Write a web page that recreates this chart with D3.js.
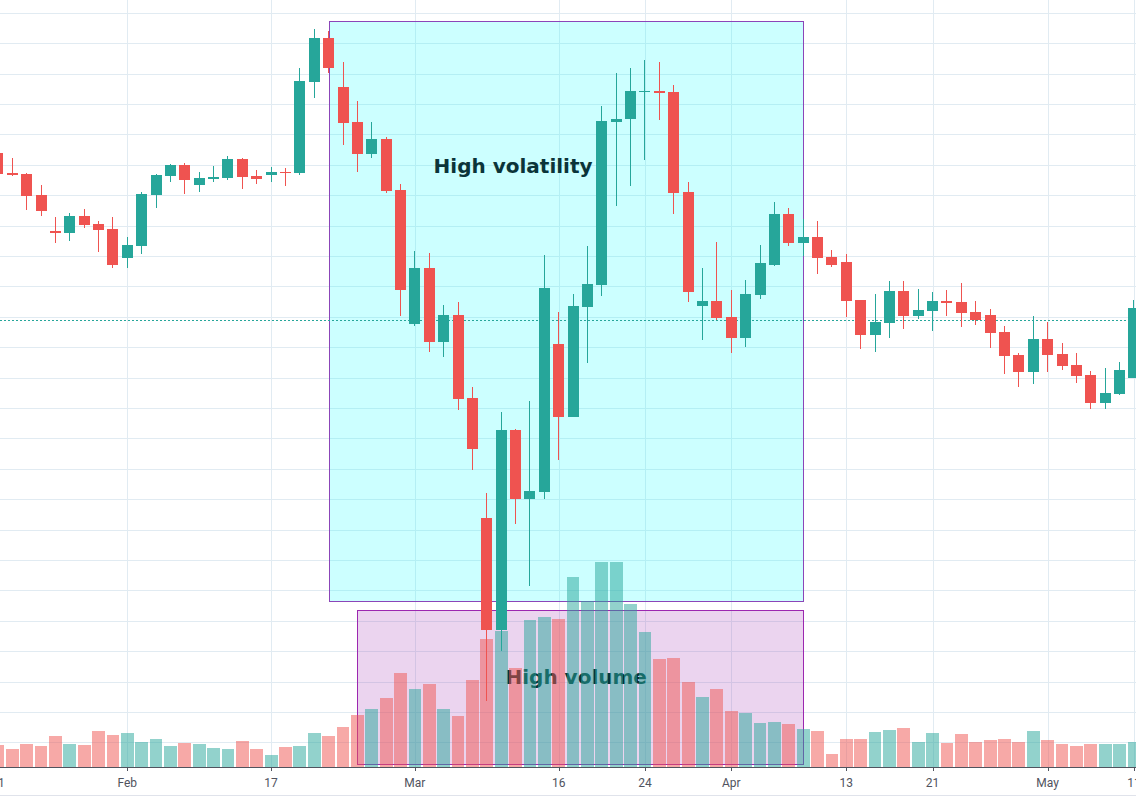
<!DOCTYPE html>
<html><head><meta charset="utf-8">
<script src="https://cdn.jsdelivr.net/npm/d3@7"></script>
<style>html,body{margin:0;padding:0;background:#fff;overflow:hidden}</style>
</head><body>
<svg id="chart" width="1136" height="803"></svg>
<script>
// ---- data (2020, weekdays) ----
const dates = ["Jan 21","Jan 22","Jan 23","Jan 24","Jan 27","Jan 28","Jan 29","Jan 30","Jan 31",
"Feb 3","Feb 4","Feb 5","Feb 6","Feb 7","Feb 10","Feb 11","Feb 12","Feb 13","Feb 14",
"Feb 17","Feb 18","Feb 19","Feb 20","Feb 21","Feb 24","Feb 25","Feb 26","Feb 27","Feb 28",
"Mar 2","Mar 3","Mar 4","Mar 5","Mar 6","Mar 9","Mar 10","Mar 11","Mar 12","Mar 13",
"Mar 16","Mar 17","Mar 18","Mar 19","Mar 20","Mar 23","Mar 24","Mar 25","Mar 26","Mar 27",
"Mar 30","Mar 31","Apr 1","Apr 2","Apr 3","Apr 6","Apr 7","Apr 8","Apr 9","Apr 10",
"Apr 13","Apr 14","Apr 15","Apr 16","Apr 17","Apr 20","Apr 21","Apr 22","Apr 23","Apr 24",
"Apr 27","Apr 28","Apr 29","Apr 30","May 1","May 4","May 5","May 6","May 7","May 8","May 11"];

const open = [294.0,287.4,287.0,280.1,268.1,267.7,273.2,270.5,268.9,259.5,
263.4,280.2,286.4,290.0,283.5,285.5,285.8,291.9,286.3,286.8,
287.8,287.4,317.4,331.8,315.6,304.1,293.7,298.5,281.7,237.7,
256.1,231.8,240.6,213.3,173.8,137.0,202.8,180.1,182.5,231.1,
207.1,243.3,250.5,304.2,305.1,314.0,314.4,314.0,281.1,243.7,
245.2,240.0,233.1,247.2,257.1,273.8,264.4,266.3,259.7,258.0,
245.5,234.1,238.1,248.5,240.4,242.0,245.2,244.9,241.6,240.6,
235.0,227.4,221.9,232.7,227.8,224.1,220.9,211.7,214.7,220.0];

const high = [294.9,292.4,287.3,283.4,272.9,274.2,275.5,271.5,272.9,266.3,
281.1,287.1,290.3,290.6,287.7,289.7,293.0,292.1,288.4,289.4,
289.1,321.9,334.7,334.1,323.9,311.0,304.1,299.2,283.7,261.7,
261.0,243.9,244.9,216.9,182.0,208.7,203.1,212.3,260.3,241.6,
247.5,263.3,309.4,320.2,321.9,324.5,323.9,316.3,284.4,256.1,
264.6,248.9,252.2,263.6,277.8,275.8,272.2,271.5,262.0,260.7,
245.6,247.5,251.8,251.8,249.2,248.2,248.8,251.1,245.2,242.6,
237.0,228.1,240.3,238.3,231.4,228.1,222.2,223.2,225.1,245.5];

const low = [285.7,286.4,275.2,273.3,264.4,265.1,269.3,261.4,256.2,256.2,
260.8,275.9,284.5,280.5,281.2,284.5,285.1,282.2,283.8,284.5,
283.2,286.8,312.1,320.2,296.6,287.8,292.4,280.9,240.2,237.1,
228.5,226.9,209.4,189.6,113.6,130.1,171.8,151.5,180.1,192.9,
207.1,224.9,246.9,276.6,283.2,291.7,304.9,273.9,245.0,232.5,
239.1,228.2,230.2,246.0,256.7,263.4,260.1,254.2,256.5,240.0,
229.5,228.5,233.1,236.1,239.3,235.4,240.4,236.8,237.4,229.8,
221.3,217.0,218.0,221.9,222.6,218.3,209.8,209.8,214.3,219.9];

const close = [287.0,286.8,279.9,274.9,267.7,273.2,270.3,268.7,257.2,263.6,
280.4,286.7,290.0,285.1,285.7,286.1,291.9,286.1,285.5,287.7,
287.4,317.6,331.8,322.0,303.9,293.7,298.5,281.5,248.9,256.1,
231.8,240.6,213.1,196.5,137.0,202.8,180.1,182.7,249.5,207.1,
243.6,250.8,304.4,305.1,314.3,314.4,313.8,280.9,248.3,245.2,
239.7,233.1,247.5,257.7,273.8,264.4,266.3,259.5,257.2,245.3,
234.1,238.2,248.5,240.4,242.2,245.2,244.6,241.4,238.9,234.8,
227.2,221.9,232.7,227.5,223.9,220.6,211.7,214.9,222.5,242.9];

const volume = [22,18,23,21,31,23,22,36,32,34,
25,28,21,24,23,19,18,26,18,12,
20,21,34,31,40,52,58,69,94,78,
83,58,51,87,128,136,99,147,150,148,
190,166,205,205,163,135,108,109,85,70,
78,56,54,44,45,43,38,36,13,28,
28,35,37,39,25,34,24,33,25,27,
28,25,36,27,23,21,23,23,23,25];

const tickIndex = [0,9,19,29,39,45,51,59,65,73,79];
const tickLabels = ["21","Feb","17","Mar","16","24","Apr","13","21","May","11"];

const lastPrice = 238.9;

// annotation zones (date index range, price range)
const zoneStart = [23, 25];
const zoneEnd = [56, 56];
const zoneTop = [337.3, 143.4];
const zoneBottom = [146.4, 92.8];
const zoneFill = ["rgba(0,255,255,0.2)", "rgba(156,39,176,0.2)"];
const zoneStroke = ["#8b45b8", "#9c27b0"];

const labelText = ["High volatility", "High volume"];
const labelIndex = [30.3, 35.3];
const labelPrice = [287.3, 119.1];

// ---- layout ----
const W = 1136, H = 803, axisY = 767;
const svg = d3.select("#chart");
svg.append("rect").attr("width", W).attr("height", H).attr("fill", "#ffffff");

const x = d3.scaleLinear().domain([0, dates.length - 1]).range([-2.1, 1133.9]);
const step = x(1) - x(0);
const y = d3.scaleLinear().domain([100, 330]).range([742.3, 43.3]);
const yv = d3.scaleLinear().domain([0, d3.max(volume)]).range([axisY, 562]);

const up = "#26a69a", down = "#ef5350";
const isUp = i => close[i] >= open[i];

// grid
const g = svg.append("g").attr("shape-rendering", "crispEdges");
d3.range(90, 350, 10).forEach(p => {
  const yy = Math.round(y(p)) + 0.5;
  if (yy > 0 && yy < axisY) g.append("line").attr("x1", 0).attr("x2", W)
    .attr("y1", yy).attr("y2", yy).attr("stroke", "#e1ebf2").attr("stroke-width", 1);
});
tickIndex.forEach(i => {
  const xx = Math.round(x(i)) + 0.5;
  g.append("line").attr("x1", xx).attr("x2", xx).attr("y1", 0).attr("y2", axisY)
    .attr("stroke", "#e1ebf2").attr("stroke-width", 1);
});

// zones
const zg = svg.append("g").attr("shape-rendering", "crispEdges");
zoneStart.forEach((s, k) => {
  const x0 = Math.round(x(s)) + 0.5, x1 = Math.round(x(zoneEnd[k])) + 0.5;
  const y0 = Math.round(y(zoneTop[k])) + 0.5, y1 = Math.round(y(zoneBottom[k])) + 0.5;
  zg.append("rect").attr("x", x0).attr("y", y0).attr("width", x1 - x0).attr("height", y1 - y0)
    .attr("fill", zoneFill[k]).attr("stroke", zoneStroke[k]).attr("stroke-width", 1);
});

// last price line
svg.append("line").attr("x1", 0).attr("x2", W)
  .attr("y1", Math.round(y(lastPrice)) + 0.5).attr("y2", Math.round(y(lastPrice)) + 0.5)
  .attr("stroke", up).attr("stroke-width", 1).attr("stroke-dasharray", "2,2");

// labels
labelText.forEach((t, k) => {
  svg.append("text").attr("x", x(labelIndex[k])).attr("y", y(labelPrice[k]))
    .attr("font-family", "'DejaVu Sans', Verdana, sans-serif").attr("font-weight", "bold")
    .attr("font-size", 20).attr("fill", "#0b3439").text(t);
});

// candles
const cg = svg.append("g").attr("shape-rendering", "crispEdges");
dates.forEach((d, i) => {
  const xc = x(i), col = isUp(i) ? up : down;
  cg.append("rect").attr("x", Math.floor(xc)).attr("width", 1)
    .attr("y", y(high[i])).attr("height", Math.max(1, y(low[i]) - y(high[i])))
    .attr("fill", col);
  const top = y(Math.max(open[i], close[i])), bot = y(Math.min(open[i], close[i]));
  cg.append("rect").attr("x", Math.round(xc - 5.5)).attr("width", 11)
    .attr("y", top).attr("height", Math.max(1.5, bot - top)).attr("fill", col);
});

// volume
const vg = svg.append("g").attr("shape-rendering", "crispEdges");
volume.forEach((v, i) => {
  vg.append("rect").attr("x", x(i) - 6.4).attr("width", 12.8)
    .attr("y", yv(v)).attr("height", axisY - yv(v))
    .attr("fill", isUp(i) ? up : down).attr("fill-opacity", 0.5);
});

// x axis
const ag = svg.append("g").attr("shape-rendering", "crispEdges");
ag.append("rect").attr("x", 0).attr("y", axisY).attr("width", W).attr("height", H - axisY).attr("fill", "#ffffff");
ag.append("line").attr("x1", 0).attr("x2", W).attr("y1", axisY + 0.5).attr("y2", axisY + 0.5)
  .attr("stroke", "#50535e").attr("stroke-width", 1);
tickIndex.forEach((i, k) => {
  const xx = Math.round(x(i)) + 0.5;
  ag.append("line").attr("x1", xx).attr("x2", xx).attr("y1", axisY).attr("y2", axisY + 4)
    .attr("stroke", "#50535e");
  ag.append("text").attr("x", x(i)).attr("y", 787).attr("text-anchor", "middle")
    .attr("font-family", "Roboto, 'Liberation Sans', sans-serif").attr("font-size", 12)
    .attr("fill", "#50535e").text(tickLabels[k]);
});
ag.append("line").attr("x1", 0).attr("x2", W).attr("y1", 795.5).attr("y2", 795.5)
  .attr("stroke", "#e0e3eb").attr("stroke-width", 1);
</script>
</body></html>
